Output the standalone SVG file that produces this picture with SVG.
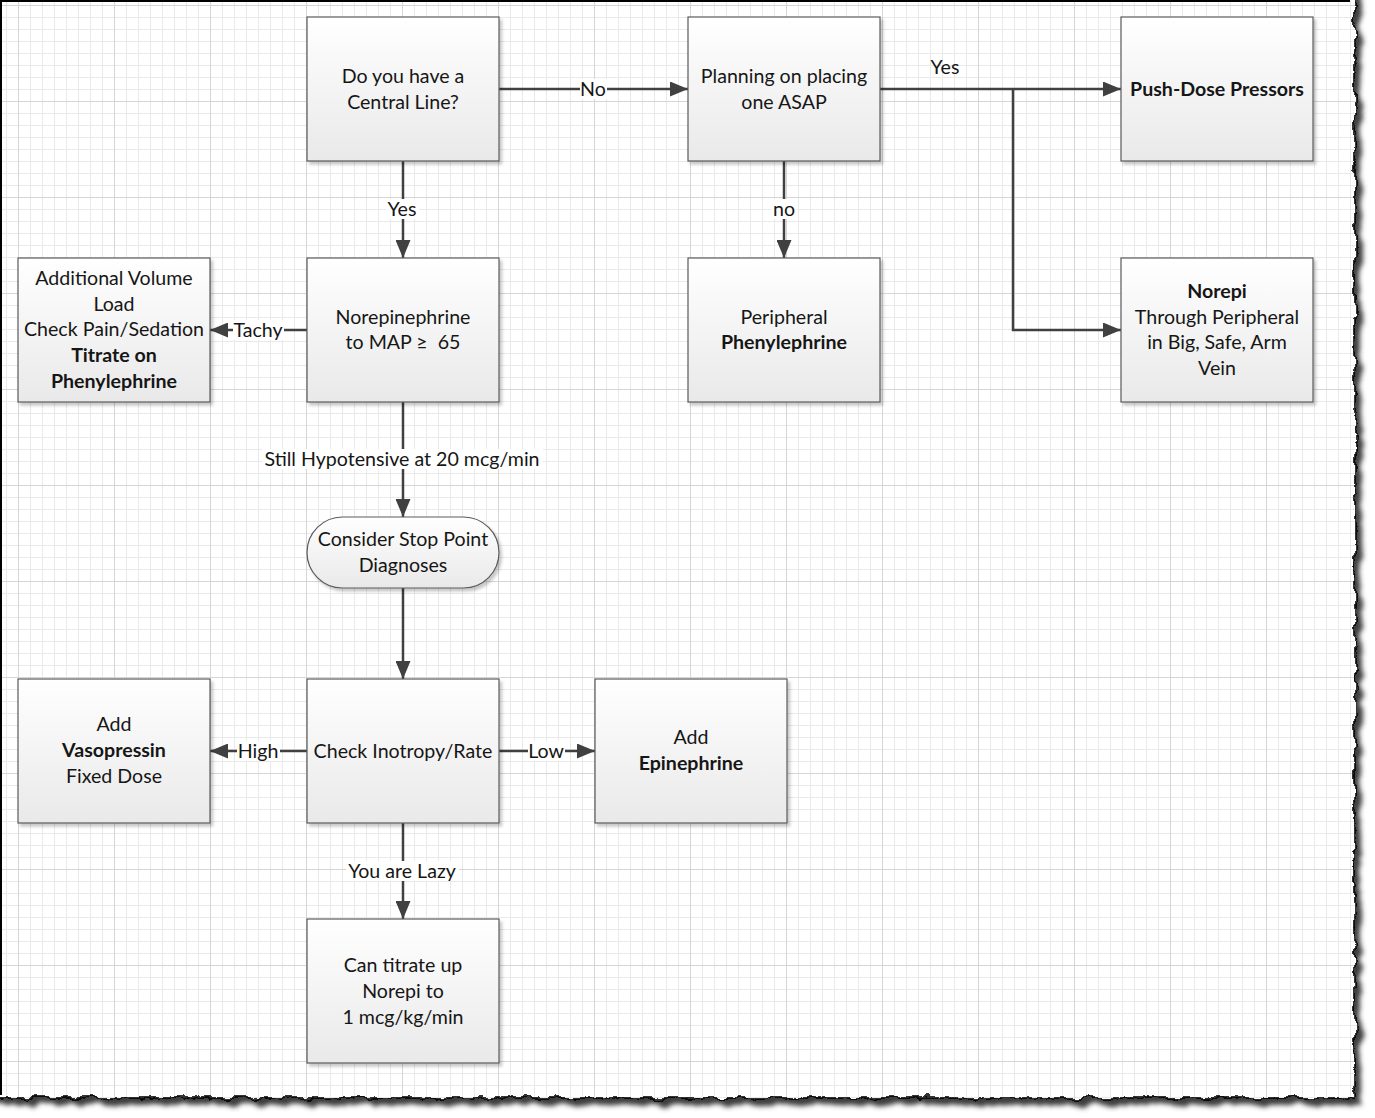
<svg xmlns="http://www.w3.org/2000/svg" width="1375" height="1118" viewBox="0 0 1375 1118">
<style>
.box{fill:url(#boxGrad);stroke:#5a5a5a;stroke-width:1.2;filter:url(#boxShadow)}
.t{font-family:Lato,"Open Sans","Liberation Sans",sans-serif;font-size:19.6px;fill:#161616;text-anchor:middle}
.b{font-weight:bold}
.conn{fill:none;stroke:#404040;stroke-width:2.5;marker-end:url(#arrow)}
.lblbg{fill:#ffffff}
</style>
<defs>
<linearGradient id="boxGrad" x1="0" y1="0" x2="0" y2="1">
<stop offset="0" stop-color="#ffffff"/>
<stop offset="1" stop-color="#e9e9e9"/>
</linearGradient>
<filter id="boxShadow" x="-10%" y="-10%" width="125%" height="125%">
<feDropShadow dx="2.5" dy="3" stdDeviation="1.5" flood-color="#000" flood-opacity="0.22"/>
</filter>
<filter id="torn" filterUnits="userSpaceOnUse" x="-100" y="-100" width="1600" height="1400">
<feTurbulence type="fractalNoise" baseFrequency="0.06" numOctaves="4" seed="7" result="n"/>
<feDisplacementMap in="SourceGraphic" in2="n" scale="10" xChannelSelector="R" yChannelSelector="G"/>
</filter>
<filter id="tornShadow" filterUnits="userSpaceOnUse" x="-100" y="-100" width="1600" height="1400">
<feTurbulence type="fractalNoise" baseFrequency="0.06" numOctaves="4" seed="7" result="n"/>
<feDisplacementMap in="SourceGraphic" in2="n" scale="10" xChannelSelector="R" yChannelSelector="G" result="d"/>
<feGaussianBlur in="d" stdDeviation="2.6"/>
</filter>
<mask id="pageMask" maskUnits="userSpaceOnUse" x="-100" y="-100" width="1600" height="1400">
<rect x="-30" y="-30" width="1385" height="1128" fill="#fff" filter="url(#torn)"/>
</mask>
<pattern id="gridMinor" patternUnits="userSpaceOnUse" x="6" y="5" width="12" height="12">
<path d="M0.5 0 V12 M0 0.5 H12" fill="none" stroke="#e9e9e9" stroke-width="1"/>
</pattern>
<pattern id="gridMajor" patternUnits="userSpaceOnUse" x="18" y="5" width="96" height="96">
<path d="M0.5 0 V96 M0 0.5 H96" fill="none" stroke="#d6d6d6" stroke-width="1"/>
</pattern>
<marker id="arrow" markerUnits="userSpaceOnUse" viewBox="0 0 18 15" refX="18" refY="7.5" markerWidth="18" markerHeight="15" orient="auto">
<path d="M0,0 L18,7.5 L0,15 z" fill="#404040"/>
</marker>
</defs>

<rect width="1375" height="1118" fill="#ffffff"/>

<g id="page">
<g transform="translate(6,7)">
<rect x="-30" y="-30" width="1385" height="1128" fill="#3c3c3c" filter="url(#tornShadow)"/>
</g>
<g mask="url(#pageMask)">
<rect x="0" y="0" width="1375" height="1118" fill="#ffffff"/>
<rect x="0" y="0" width="1375" height="1118" fill="url(#gridMinor)"/>
<rect x="0" y="0" width="1375" height="1118" fill="url(#gridMajor)"/>
</g>
<rect x="-30" y="-30" width="1385" height="1128" fill="none" stroke="#000" stroke-width="1.6" filter="url(#torn)"/>
<rect x="0" y="0" width="1350" height="2" fill="#000"/>
<rect x="0" y="0" width="2" height="1095" fill="#000"/>
</g>

<g id="connectors">
<path class="conn" d="M499,89 H688"/>
<path class="conn" d="M403,161 V258"/>
<path class="conn" d="M784,161 V258"/>
<path class="conn" d="M880,89 H1121"/>
<path class="conn" d="M1013,89 V330 H1121"/>
<path class="conn" d="M307,330 H210"/>
<path class="conn" d="M403,402 V517"/>
<path class="conn" d="M403,588 V679"/>
<path class="conn" d="M307,751 H210"/>
<path class="conn" d="M499,751 H595"/>
<path class="conn" d="M403,823 V919"/>
<g id="labels">
<rect class="lblbg" x="580" y="79" width="27" height="20"/>
<text class="t" x="593" y="96">No</text>
<rect class="lblbg" x="386" y="199" width="33" height="20"/>
<text class="t" x="402" y="216">Yes</text>
<rect class="lblbg" x="771" y="199" width="26" height="20"/>
<text class="t" x="784" y="216">no</text>
<text class="t" x="945" y="74">Yes</text>
<rect class="lblbg" x="233" y="320" width="51" height="20"/>
<text class="t" x="258" y="337">Tachy</text>
<rect class="lblbg" x="262" y="449" width="281" height="20"/>
<text class="t" x="402" y="466">Still Hypotensive at 20 mcg/min</text>
<rect class="lblbg" x="237" y="741" width="43" height="20"/>
<text class="t" x="258" y="758">High</text>
<rect class="lblbg" x="528" y="741" width="37" height="20"/>
<text class="t" x="546" y="758">Low</text>
<rect class="lblbg" x="346" y="861" width="113" height="20"/>
<text class="t" x="402" y="878">You are Lazy</text>
</g>
</g>

<g id="n-central-line">
<rect class="box" x="307" y="17" width="192" height="144"/>
<text class="t" x="403" y="83">Do you have a</text>
<text class="t" x="403" y="109">Central Line?</text>
</g>
<g id="n-planning">
<rect class="box" x="688" y="17" width="192" height="144"/>
<text class="t" x="784" y="83">Planning on placing</text>
<text class="t" x="784" y="109">one ASAP</text>
</g>
<g id="n-push-dose">
<rect class="box" x="1121" y="17" width="192" height="144"/>
<text class="t b" x="1217" y="96">Push-Dose Pressors</text>
</g>
<g id="n-norepinephrine">
<rect class="box" x="307" y="258" width="192" height="144"/>
<text class="t" x="403" y="324">Norepinephrine</text>
<text class="t" x="403" y="349">to MAP ≥&#160; 65</text>
</g>
<g id="n-additional-volume">
<rect class="box" x="18" y="258" width="192" height="144"/>
<text class="t" x="114" y="285">Additional Volume</text>
<text class="t" x="114" y="311">Load</text>
<text class="t" x="114" y="336">Check Pain/Sedation</text>
<text class="t b" x="114" y="362">Titrate on</text>
<text class="t b" x="114" y="388">Phenylephrine</text>
</g>
<g id="n-peripheral-phenylephrine">
<rect class="box" x="688" y="258" width="192" height="144"/>
<text class="t" x="784" y="324">Peripheral</text>
<text class="t b" x="784" y="349">Phenylephrine</text>
</g>
<g id="n-norepi-peripheral">
<rect class="box" x="1121" y="258" width="192" height="144"/>
<text class="t b" x="1217" y="298">Norepi</text>
<text class="t" x="1217" y="324">Through Peripheral</text>
<text class="t" x="1217" y="349">in Big, Safe, Arm</text>
<text class="t" x="1217" y="375">Vein</text>
</g>
<g id="n-stop-point">
<rect class="box" x="307" y="517" width="192" height="71" rx="35.5" ry="35.5"/>
<text class="t" x="403" y="546">Consider Stop Point</text>
<text class="t" x="403" y="572">Diagnoses</text>
</g>
<g id="n-check-inotropy">
<rect class="box" x="307" y="679" width="192" height="144"/>
<text class="t" x="403" y="758">Check Inotropy/Rate</text>
</g>
<g id="n-vasopressin">
<rect class="box" x="18" y="679" width="192" height="144"/>
<text class="t" x="114" y="731">Add</text>
<text class="t b" x="114" y="757">Vasopressin</text>
<text class="t" x="114" y="783">Fixed Dose</text>
</g>
<g id="n-epinephrine">
<rect class="box" x="595" y="679" width="192" height="144"/>
<text class="t" x="691" y="744">Add</text>
<text class="t b" x="691" y="770">Epinephrine</text>
</g>
<g id="n-titrate-up">
<rect class="box" x="307" y="919" width="192" height="144"/>
<text class="t" x="403" y="972">Can titrate up</text>
<text class="t" x="403" y="998">Norepi to</text>
<text class="t" x="403" y="1024">1 mcg/kg/min</text>
</g>
</svg>
